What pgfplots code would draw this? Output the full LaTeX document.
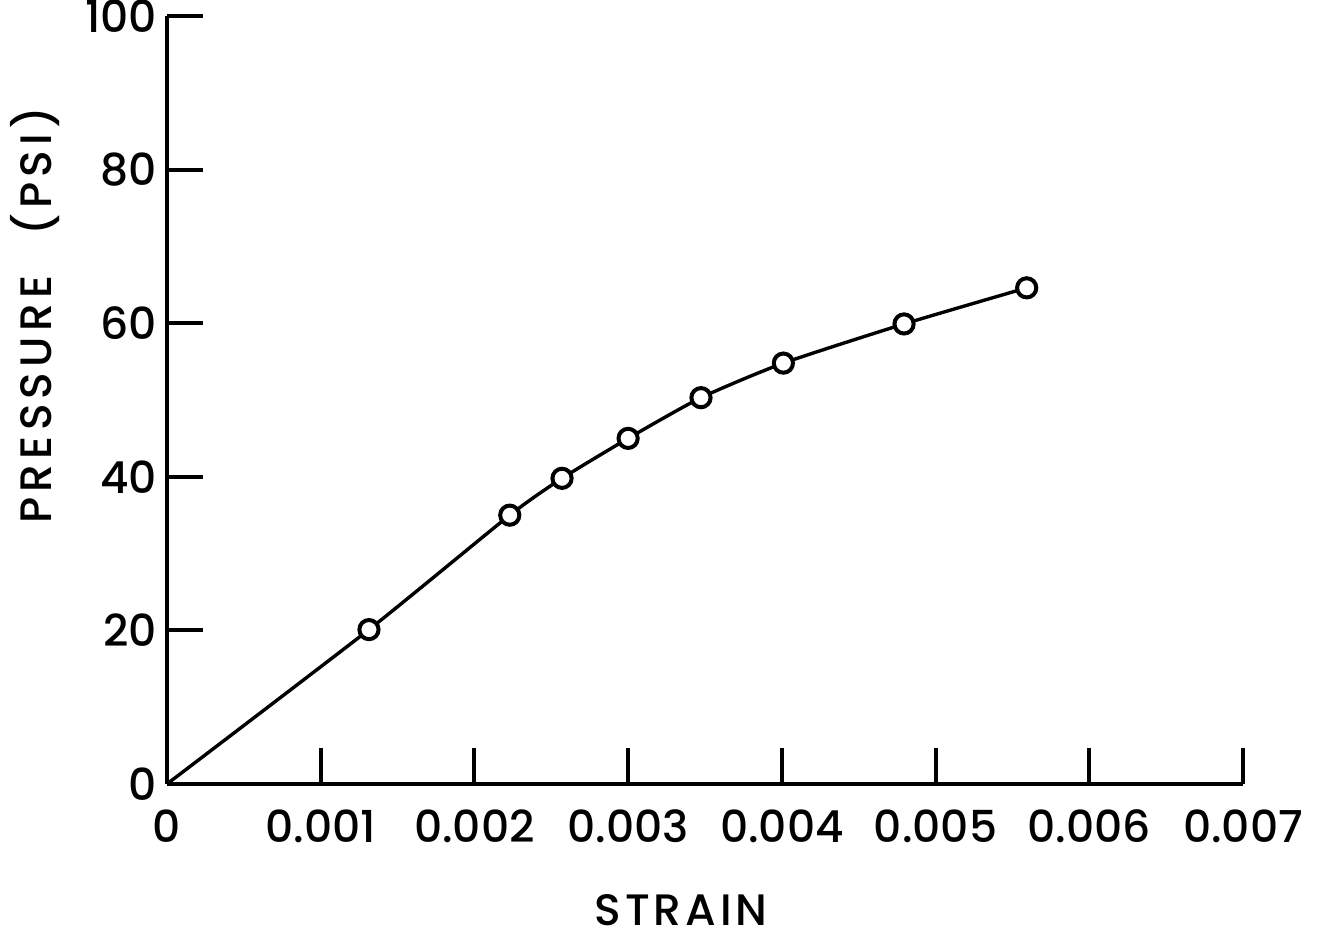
\documentclass[border=0pt]{standalone}
\usepackage{fontspec}
\setmainfont{Poppins}[UprightFont=* Medium]
\usepackage{pgfplots}
\pgfplotsset{compat=1.18}

\begin{document}
\begin{tikzpicture}
\begin{axis}[
  scale only axis, width=269pt, height=192pt,
  at={(0,0)}, anchor=south west,
  axis lines=left, axis line style={-, line width=1.1pt},
  xmin=0, xmax=0.007, ymin=0, ymax=100,
  xtick={0,0.001,0.002,0.003,0.004,0.005,0.006,0.007},
  xticklabels={0,0.001,0.002,0.003,0.004,0.005,0.006,0.007},
  ytick={0,20,40,60,80,100},
  yticklabels={0,20,40,60,80,100},
  scaled x ticks=false,
  tick align=inside, major tick length=9pt,
  tick style={line width=1pt, black},
  ticklabel style={font=\fontsize{11}{13}\selectfont},
  xticklabel style={yshift=-3pt},
  yticklabel style={xshift=1pt},
  xlabel={STRAIN}, ylabel={PRESSURE\hspace{0.9em}(PSI)},
  xlabel style={font=\fontsize{11}{13}\selectfont\addfontfeature{LetterSpace=9},
    yshift=-6pt, xshift=-6pt},
  ylabel style={font=\fontsize{11}{13}\selectfont\addfontfeature{LetterSpace=12},
    at={(ticklabel cs:0.61)}, yshift=-0.5pt},
  clip=false,
]
\addplot[black, line width=0.85pt, smooth, tension=0.35,
  mark=*, mark size=2.4pt,
  mark options={fill=white, draw=black, line width=1pt},
  mark indices={2,...,9}] coordinates {
  (0,0)
  (0.001314,20.1)
  (0.00223,35.0)
  (0.00257,39.8)
  (0.00300,45.0)
  (0.003474,50.3)
  (0.00401,54.8)
  (0.004795,59.9)
  (0.005593,64.6)
};
\end{axis}
\pgfresetboundingbox
\path[use as bounding box] (-41.75pt,-38.25pt) rectangle (290.5pt,196pt);
\end{tikzpicture}
\end{document}
